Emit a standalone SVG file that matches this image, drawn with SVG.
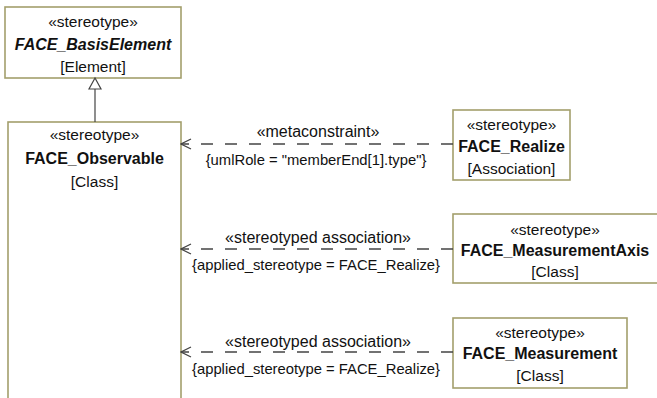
<svg xmlns="http://www.w3.org/2000/svg" width="657" height="398" viewBox="0 0 657 398">
<style>
.box{fill:#fff;stroke:#a39f6c;stroke-width:1.6}
.t{font-family:"Liberation Sans",Arial,sans-serif;font-size:15.5px;fill:#111;text-anchor:middle}
.b{font-weight:bold;font-size:16px}
.i{font-style:italic}
.l{font-family:"Liberation Sans",Arial,sans-serif;font-size:14.8px;fill:#111;text-anchor:middle}
.s{font-size:16px}
.dash{fill:none;stroke:#444;stroke-width:1.3;stroke-dasharray:12 12}
.solid{fill:none;stroke:#444;stroke-width:1.2}
</style>
<defs>
<marker id="open" markerWidth="12" markerHeight="12" refX="11" refY="6" orient="auto" markerUnits="userSpaceOnUse">
<path d="M1,1 L11,6 L1,11" fill="none" stroke="#444" stroke-width="1.3"/>
</marker>
</defs>
<rect width="657" height="398" fill="#fff"/>
<g id="FACE_BasisElement">
<rect class="box" x="5" y="7" width="176" height="71"/>
<text class="t" x="93" y="27">«stereotype»</text>
<text class="t b i" x="93" y="50">FACE_BasisElement</text>
<text class="t" x="93" y="72">[Element]</text>
</g>
<g id="FACE_Observable">
<rect class="box" x="8" y="122" width="173" height="290"/>
<text class="t" x="94.5" y="140">«stereotype»</text>
<text class="t b" x="94.5" y="164">FACE_Observable</text>
<text class="t" x="94.5" y="187">[Class]</text>
</g>
<g id="FACE_Realize">
<rect class="box" x="453" y="110" width="117" height="70"/>
<text class="t" x="511.5" y="130">«stereotype»</text>
<text class="t b" x="511.5" y="152">FACE_Realize</text>
<text class="t" x="511.5" y="174">[Association]</text>
</g>
<g id="FACE_MeasurementAxis">
<rect class="box" x="453" y="214" width="210" height="69"/>
<text class="t" x="555" y="235">«stereotype»</text>
<text class="t b" x="555" y="256">FACE_MeasurementAxis</text>
<text class="t" x="555" y="277">[Class]</text>
</g>
<g id="FACE_Measurement">
<rect class="box" x="453" y="318" width="174" height="70"/>
<text class="t" x="540" y="338">«stereotype»</text>
<text class="t b" x="540" y="359">FACE_Measurement</text>
<text class="t" x="540" y="381">[Class]</text>
</g>
<g id="connectors">
<path class="solid" d="M95,89 V122"/>
<path d="M95,78 L89,89 L101,89 Z" fill="#fff" stroke="#444" stroke-width="1.2"/>
<path class="dash" d="M453,144 H181" marker-end="url(#open)"/>
<path class="dash" d="M453,249 H181" marker-end="url(#open)"/>
<path class="dash" d="M453,352 H181" marker-end="url(#open)"/>
<text class="l s" x="318" y="137">«metaconstraint»</text>
<text class="l" x="316" y="165">{umlRole = "memberEnd[1].type"}</text>
<text class="l s" x="318" y="243">«stereotyped association»</text>
<text class="l" x="316" y="270">{applied_stereotype = FACE_Realize}</text>
<text class="l s" x="318" y="347">«stereotyped association»</text>
<text class="l" x="316" y="374">{applied_stereotype = FACE_Realize}</text>
</g>
</svg>
